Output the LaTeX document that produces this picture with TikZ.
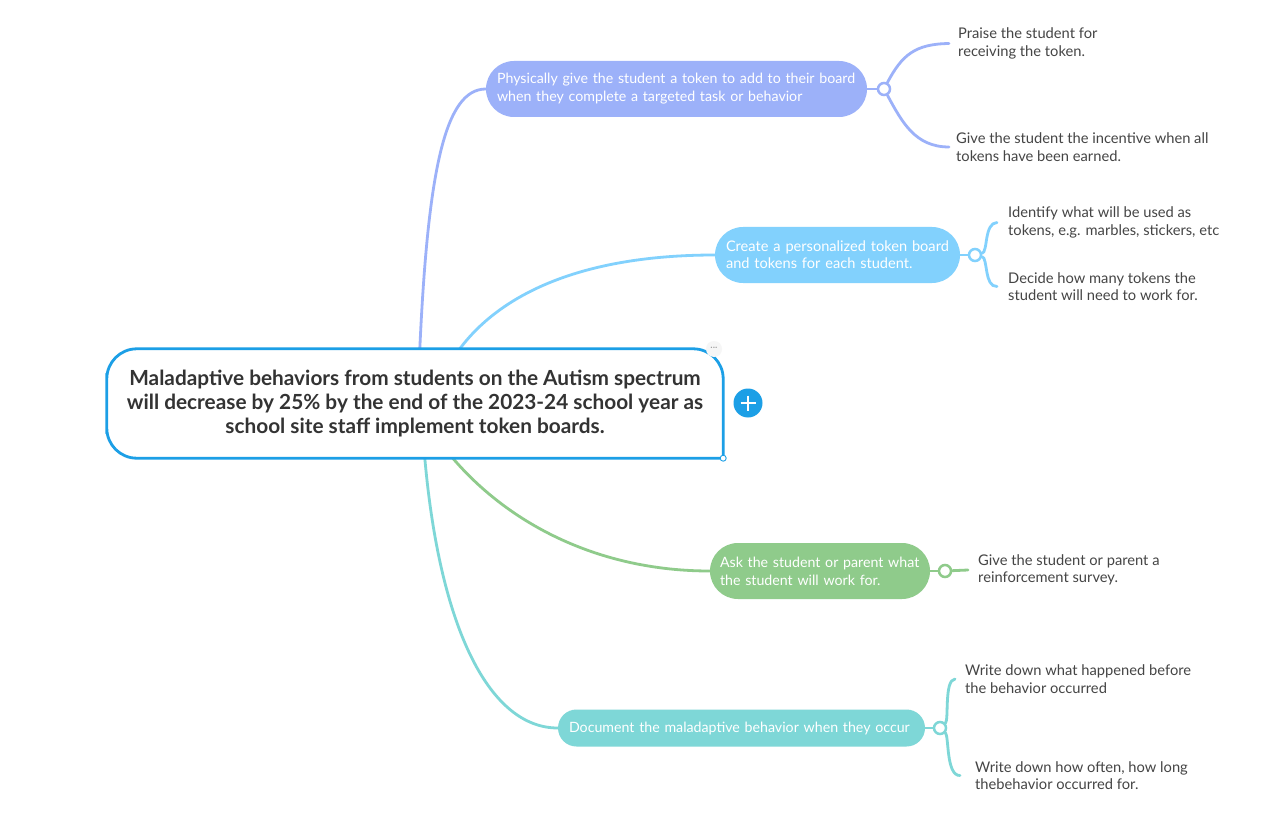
\documentclass[tikz,border=0pt]{standalone}
\usepackage{fontspec}
\setmainfont{Lato}
\usetikzlibrary{calc}
\definecolor{cblue}{HTML}{1C9FE6}
\definecolor{bA}{HTML}{9CB1F9}
\definecolor{bB}{HTML}{82D1FD}
\definecolor{bC}{HTML}{8FCB8B}
\definecolor{bD}{HTML}{7ED7D7}
\definecolor{leafc}{HTML}{454545}
\definecolor{ctext}{HTML}{333333}
\pgfdeclarelayer{bg}
\pgfdeclarelayer{mid}
\pgfsetlayers{bg,mid,main}
\begin{document}
\begin{tikzpicture}[x=1pt,y=-1pt,
  branchbox/.style={rectangle, rounded corners=28pt, minimum height=56pt, text=white, align=left, inner xsep=11pt, inner ysep=0pt, font=\fontsize{14.2}{18}\selectfont},
  leaf/.style={anchor=west, align=left, inner sep=0pt, text=leafc, font=\fontsize{14.7}{17.5}\selectfont},
  knob/.style={circle, draw, fill=white, line width=2.5pt, minimum size=12pt, inner sep=0pt},
  conn/.style={line width=2.8pt, line cap=round},
]
\useasboundingbox (0,0) rectangle (1277,821);
\begin{pgfonlayer}{bg}
\fill[white] (0,0) rectangle (1277,821);
\end{pgfonlayer}

% central node
\node[minimum width=616pt, minimum height=109pt, inner sep=0pt, align=center,
      font=\bfseries\fontsize{20.8}{24}\selectfont, text=ctext] (c) at (415,403.5)
  {Maladaptive behaviors from students on the Autism spectrum\\
   will decrease by 25\% by the end of the 2023-24 school year as\\
   school site staff implement token boards.};
\begin{pgfonlayer}{mid}
\draw[cblue, line width=2.8pt, fill=white, line join=round]
  (c.east) [rounded corners=30pt] |- (c.north) -| (c.west) |- (c.south) [sharp corners] -| (c.east);
\end{pgfonlayer}
\node[circle, draw=cblue, fill=white, line width=0.9pt, minimum size=6pt, inner sep=0pt] (h) at (c.south east) {};
\node[circle, fill=gray!7, minimum size=16pt, inner sep=0pt, text=gray!80, font=\fontsize{9}{9}\selectfont] (dots) at (714,349) {···};
\node[circle, fill=cblue, minimum size=29pt, inner sep=0pt] (plus) at (748,403) {};
\draw[white, line width=2.6pt] ($(plus)+(-7.5,0)$) -- ($(plus)+(7.5,0)$);
\draw[white, line width=2.6pt] ($(plus)+(0,-7.5)$) -- ($(plus)+(0,7.5)$);

% branch nodes
\node[branchbox, fill=bA, text width=359pt] (b1) at (676.5,89)
  {Physically give the student a token to add to their board\\when they complete a targeted task or behavior};
\node[branchbox, fill=bB, text width=223pt, font=\fontsize{14.6}{17}\selectfont] (b2) at (837.5,255)
  {Create a personalized token board\\and tokens for each student.};
\node[branchbox, fill=bC, text width=200pt, inner xsep=10pt] (b3) at (820,571)
  {Ask the student or parent what\\the student will work for.};
\node[branchbox, fill=bD, text width=345pt, minimum height=37pt, rounded corners=18.5pt] (b4) at (741.5,728)
  {Document the maladaptive behavior when they occur};

% knobs
\node[knob, draw=bA] (k1) at (884,89) {};
\node[knob, draw=bB] (k2) at (975,255) {};
\node[knob, draw=bC] (k3) at (945,571) {};
\node[knob, draw=bD] (k4) at (940,728) {};

% leaves
\node[leaf] (l11) at (958,43.5) {Praise the student for\\receiving the token.};
\node[leaf] (l12) at (956,147) {Give the student the incentive when all\\tokens have been earned.};
\node[leaf] (l21) at (1008,222.5) {Identify what will be used as\\tokens, e.g. marbles, stickers, etc};
\node[leaf] (l22) at (1008,286.5) {Decide how many tokens the\\student will need to work for.};
\node[leaf] (l31) at (978,570) {Give the student or parent a\\reinforcement survey.};
\node[leaf] (l41) at (965,679) {Write down what happened before\\the behavior occurred};
\node[leaf] (l42) at (975,775.5) {Write down how often, how long\\thebehavior occurred for.};

\coordinate (s1) at ([xshift=313pt]c.north west);
\coordinate (s2) at ([xshift=353pt]c.north west);
\coordinate (s3) at ([xshift=346pt]c.south west);
\coordinate (s4) at ([xshift=318pt]c.south west);

\begin{pgfonlayer}{bg}
% main connectors
\draw[conn, bA] (s1) .. controls (428,170) and (445,89) .. (b1.west);
\draw[conn, bB] (s2) .. controls (500,295) and (580,255) .. (b2.west);
\draw[conn, bC] (s3) .. controls (510,525) and (600,571) .. (b3.west);
\draw[conn, bD] (s4) .. controls (440,630) and (490,728) .. (b4.west);
% branch to knob
\draw[conn, bA] (b1) -- (k1);
\draw[conn, bB] (b2) -- (k2);
\draw[conn, bC] (b3) -- (k3);
\draw[conn, bD] (b4) -- (k4);
% knob to leaves
\draw[conn, bA] (k1) .. controls (902,55) and (915,44) .. ([xshift=-9pt]l11.west);
\draw[conn, bA] (k1) .. controls (902,122) and (915,147) .. ([xshift=-7pt]l12.west);
\draw[conn, bB] (k2) .. controls (988,252) and (984,223) .. ([xshift=-11pt]l21.west);
\draw[conn, bB] (k2) .. controls (988,258) and (984,287) .. ([xshift=-11pt]l22.west);
\draw[conn, bC] (k3) -- ([xshift=-10pt]l31.west);
\draw[conn, bD] (k4) .. controls (949,720) and (944,680) .. ([xshift=-10pt]l41.west);
\draw[conn, bD] (k4) .. controls (949,736) and (946,776) .. ([xshift=-15pt]l42.west);
\end{pgfonlayer}
\end{tikzpicture}
\end{document}
